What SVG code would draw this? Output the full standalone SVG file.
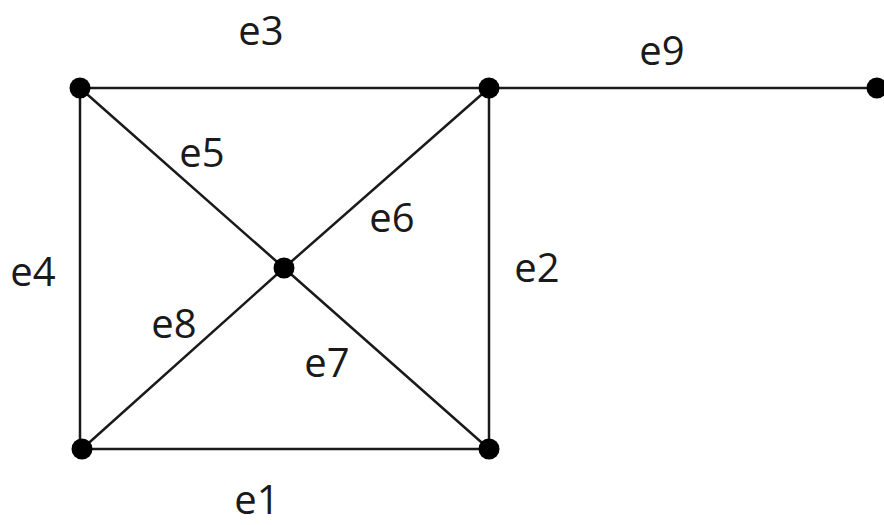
<svg xmlns="http://www.w3.org/2000/svg" width="884" height="525" viewBox="0 0 884 525">
<style>
.edge{stroke:#1a1a1a;stroke-width:2.5;fill:none;stroke-linecap:round}
.node{fill:#000}
.lbl{font-family:"Open Sans","Noto Sans","Liberation Sans",sans-serif;font-size:40px;fill:#1a1a1a;text-anchor:middle}
</style>
<rect width="884" height="525" fill="#fff"/>
<g id="edges">
<line class="edge" x1="82" y1="449" x2="489" y2="449"/>
<line class="edge" x1="489" y1="88" x2="489" y2="449"/>
<line class="edge" x1="80" y1="88" x2="489" y2="88"/>
<line class="edge" x1="80" y1="88" x2="80" y2="449"/>
<line class="edge" x1="80" y1="88" x2="284" y2="268"/>
<line class="edge" x1="489" y1="88" x2="284" y2="268"/>
<line class="edge" x1="284" y1="268" x2="489" y2="449"/>
<line class="edge" x1="284" y1="268" x2="82" y2="449"/>
<line class="edge" x1="489" y1="88" x2="877" y2="88"/>
</g>
<g id="labels">
<text class="lbl" x="257" y="514">e1</text>
<text class="lbl" x="537" y="282">e2</text>
<text class="lbl" x="261" y="45">e3</text>
<text class="lbl" x="33" y="286">e4</text>
<text class="lbl" x="202" y="167">e5</text>
<text class="lbl" x="392" y="232">e6</text>
<text class="lbl" x="327" y="377">e7</text>
<text class="lbl" x="174" y="338">e8</text>
<text class="lbl" x="662" y="65">e9</text>
</g>
<g id="n1"><circle class="node" cx="80" cy="88" r="10.5"/></g>
<g id="n2"><circle class="node" cx="489" cy="88" r="10.5"/></g>
<g id="n3"><circle class="node" cx="877" cy="88" r="10.5"/></g>
<g id="n4"><circle class="node" cx="284" cy="268" r="10.5"/></g>
<g id="n5"><circle class="node" cx="82" cy="449" r="10.5"/></g>
<g id="n6"><circle class="node" cx="489" cy="449" r="10.5"/></g>
</svg>
